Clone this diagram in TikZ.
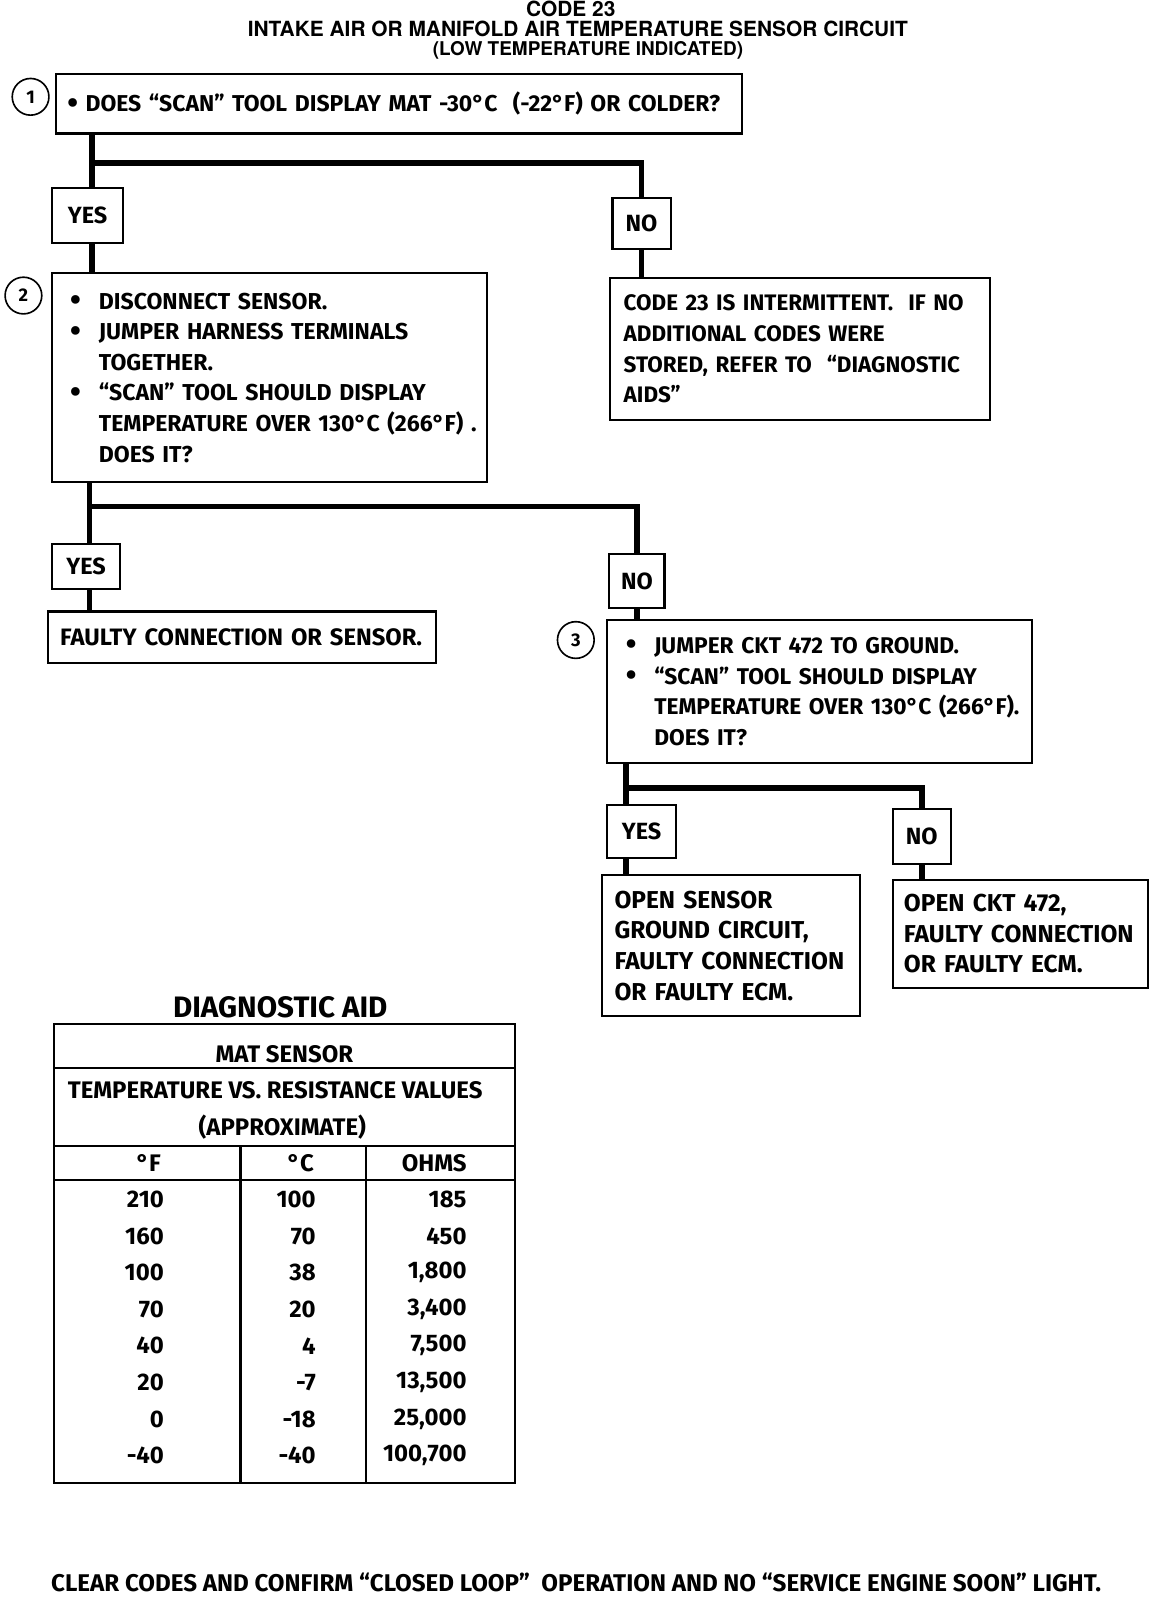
\documentclass[tikz,border=0pt]{standalone}
\usepackage{fontspec}
\setmainfont{Fira Sans}
\newfontfamily\headfont{TeX Gyre Heros}
\usetikzlibrary{positioning}
\newcommand\bigdot{\raisebox{-0.06em}{\scalebox{1.35}{\textbullet}}}
\newcommand\bul{\makebox[28pt][l]{\bigdot}}
\newcommand\ind{\hspace*{28pt}}
\tikzset{
    x=1pt, y=-1pt, % picture is laid out in pixels, y grows downwards
    txt/.style={font=\bfseries\fontsize{23}{30}\selectfont},
    box/.style={txt, draw, line width=2pt, anchor=north west, align=left, inner ysep=0pt},
    ans/.style={txt, draw, line width=2pt, anchor=north west, inner sep=0pt},
    num/.style={draw, circle, line width=1.6pt, minimum size=36pt, inner sep=0pt, font=\bfseries\fontsize{18}{18}\selectfont},
    conn/.style={line width=5.5pt},
    head/.style={font=\headfont\bfseries\fontsize{20.5}{20.5}\selectfont, inner sep=0pt},
    cell/.style={font=\bfseries\fontsize{23.5}{23.5}\selectfont, inner sep=0pt},
}
\begin{document}
\begin{tikzpicture}
\useasboundingbox (0,0) rectangle (1130,1568);
% title
\node[head] (t1) at (560,9) {CODE 23};
\node[head] (t2) at (567,28) {INTAKE AIR OR MANIFOLD AIR TEMPERATURE SENSOR CIRCUIT};
\node[head, font=\headfont\bfseries\fontsize{18.6}{18.6}\selectfont] (t3) at (577,49) {(LOW TEMPERATURE INDICATED)};

% step 1
\node[box, font=\bfseries\fontsize{22.5}{30}\selectfont, text width=651pt, inner xsep=11pt, minimum height=58pt] (q1) at (54,72)
    {\bigdot\ DOES “SCAN” TOOL DISPLAY MAT -30°C \ (-22°F) OR COLDER?};
\node[num] (c1) at (30,95) {1};
\node[ans, minimum width=70pt, minimum height=54pt] (yes1) at (50,183) {YES};
\node[ans, minimum width=57pt, minimum height=50pt] (no1) at (600,193) {NO};
\node[box, font=\bfseries\fontsize{22}{30}\selectfont, text width=346pt, inner xsep=13pt, minimum height=139pt] (r1) at (598,272)
    {CODE 23 IS INTERMITTENT. \ IF NO\\ ADDITIONAL CODES WERE\\ STORED, REFER TO \ “DIAGNOSTIC\\ AIDS”};

% step 2
\node[box, font=\bfseries\fontsize{22.6}{30}\selectfont, text width=391pt, inner xsep=18pt, minimum height=205pt] (q2) at (50,267)
    {\bul DISCONNECT SENSOR.\\
     \bul JUMPER HARNESS TERMINALS\\
     \ind TOGETHER.\\
     \bul “SCAN” TOOL SHOULD DISPLAY\\
     \ind\mbox{TEMPERATURE OVER 130°C (266°F) .}\\
     \ind DOES IT?};
\node[num] (c2) at (23,290) {2};
\node[ans, minimum width=67pt, minimum height=44pt] (yes2) at (50,533) {YES};
\node[ans, minimum width=54pt, minimum height=53pt] (no2) at (597,543) {NO};
\node[box, font=\bfseries\fontsize{23.3}{30}\selectfont, text width=357pt, inner xsep=12pt, minimum height=51pt] (r2) at (46,599)
    {\mbox{FAULTY CONNECTION OR SENSOR.}};

% step 3
\node[box, font=\bfseries\fontsize{22.3}{30}\selectfont, text width=381pt, inner xsep=18pt, minimum height=141pt] (q3) at (595,607)
    {\bul JUMPER CKT 472 TO GROUND.\\
     \bul “SCAN” TOOL SHOULD DISPLAY\\
     \ind\mbox{TEMPERATURE OVER 130°C (266°F).}\\
     \ind DOES IT?};
\node[num] (c3) at (565,628) {3};
\node[ans, minimum width=67pt, minimum height=52pt] (yes3) at (595,789) {YES};
\node[ans, minimum width=57pt, minimum height=54pt] (no3) at (875,793) {NO};
\node[box, font=\bfseries\fontsize{24}{30}\selectfont, text width=229pt, inner xsep=12pt, minimum height=138pt] (r3) at (590,858)
    {OPEN SENSOR\\ GROUND CIRCUIT,\\ FAULTY CONNECTION\\ OR FAULTY ECM.};
\node[box, font=\bfseries\fontsize{24}{30}\selectfont, text width=228pt, inner xsep=11pt, minimum height=106pt] (r4) at (875,862)
    {OPEN CKT 472,\\ FAULTY CONNECTION\\ OR FAULTY ECM.};

% connectors
\coordinate (j1) at (90,160);
\coordinate (j2) at (88,497);
\coordinate (j3) at (614,773);
\draw[conn] (j1 |- q1.south) -- (j1 |- yes1.north);
\draw[conn] (j1) -| (no1.north);
\draw[conn] (j1 |- yes1.south) -- (j1 |- q2.north);
\draw[conn] (no1.south) -- (no1.south |- r1.north);
\draw[conn] (j2 |- q2.south) -- (j2 |- yes2.north);
\draw[conn] (j2) -| (no2.north);
\draw[conn] (j2 |- yes2.south) -- (j2 |- r2.north);
\draw[conn] (no2.south) -- (no2.south |- q3.north);
\draw[conn] (j3 |- q3.south) -- (j3 |- yes3.north);
\draw[conn] (j3) -| (no3.north);
\draw[conn] (j3 |- yes3.south) -- (j3 |- r3.north);
\draw[conn] (no3.south) -- (no3.south |- r4.north);

% diagnostic aid table
\node[txt, font=\bfseries\fontsize{29}{29}\selectfont, inner sep=0pt] (aid) at (275,988) {DIAGNOSTIC AID};
\draw[line width=2pt] (53,1005) rectangle (505,1455);
\draw[line width=2pt] (53,1048) -- (505,1048)
                      (53,1124) -- (505,1124)
                      (53,1158) -- (505,1158)
                      (236,1124) -- (236,1455)
                      (359,1124) -- (359,1455);
\node[cell] (mat) at (279,1034) {MAT SENSOR};
\node[cell] (tvr) at (270,1070) {TEMPERATURE VS. RESISTANCE VALUES};
\node[cell] (apx) at (277,1106) {(APPROXIMATE)};
\node[cell] (hf) at (146,1141) {°F};
\node[cell] (hc) at (295,1141) {°C};
\node[cell] (ho) at (426,1141) {OHMS};
\foreach \f/\c/\o [count=\i] in {210/100/185, 160/70/450, 100/38/{1,800}, 70/20/{3,400},
                                 40/4/{7,500}, 20/-7/{13,500}, 0/-18/{25,000}, -40/-40/{100,700}} {
    \node[cell, anchor=east] (f\i) at (161,1141+\i*35.9) {\f};
    \node[cell, anchor=east] (c\i) at (310,1141+\i*35.9) {\c};
    \node[cell, anchor=east] (o\i) at (458,1141+\i*35.9) {\o};
}

% footer
\node[cell, font=\bfseries\fontsize{23.7}{23.7}\selectfont, anchor=west] (foot) at (50,1553)
    {CLEAR CODES AND CONFIRM “CLOSED LOOP” \ OPERATION AND NO “SERVICE ENGINE SOON” LIGHT.};
\end{tikzpicture}
\end{document}
